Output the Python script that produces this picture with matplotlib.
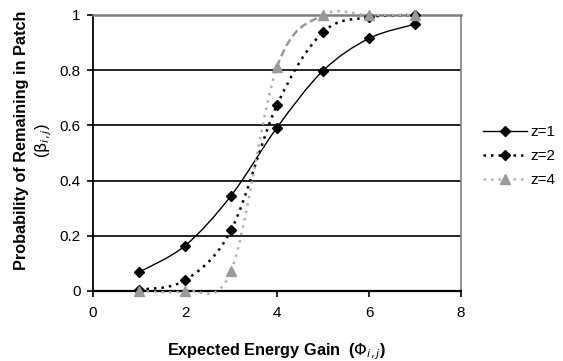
import matplotlib
matplotlib.use("Agg")
import matplotlib.pyplot as plt
from matplotlib.path import Path
from matplotlib.patches import PathPatch
from matplotlib.lines import Line2D
import numpy as np

plt.rcParams['font.family'] = ['Liberation Sans', 'DejaVu Sans']

phi = [1, 2, 3, 4, 5, 6, 7]
beta_z1 = [0.068, 0.164, 0.345, 0.592, 0.798, 0.915, 0.967]
beta_z2 = [0.005, 0.039, 0.220, 0.674, 0.938, 0.992, 1.0]
beta_z4 = [0.0, 0.0, 0.072, 0.812, 1.0, 1.0, 1.0]
labels = ["z=1", "z=2", "z=4"]
x_ticks = [0, 2, 4, 6, 8]
y_ticks = [0, 0.2, 0.4, 0.6, 0.8, 1.0]
y_ticklabels = ["0", "0.2", "0.4", "0.6", "0.8", "1"]

FS = 11
FS_LAB = 11.7


def bezier_segments(xs, ys):
    p = np.column_stack([xs, ys]).astype(float)
    n = len(p)
    segs = []
    for i in range(n - 1):
        p_prev = p[i - 1] if i > 0 else p[i]
        p_next2 = p[i + 2] if i + 2 < n else p[i + 1]
        c1 = p[i] + (p[i + 1] - p_prev) / 6.0
        c2 = p[i + 1] - (p_next2 - p[i]) / 6.0
        segs.append(Path([p[i], c1, c2, p[i + 1]],
                         [Path.MOVETO, Path.CURVE4, Path.CURVE4, Path.CURVE4]))
    return segs


fig = plt.figure(figsize=(5.63, 3.61), dpi=100)
ax = fig.add_axes([93 / 563, 70 / 361, 368 / 563, 276 / 361])

dot = (0, (1.0, 2.0))
series = [
    (beta_z1, '-', 'black', 1.0, 'D', 'black', 5),
    (beta_z2, dot, 'black', 1.8, 'D', 'black', 5),
    (beta_z4, dot, '#b0b0b0', 1.8, '^', '#9a9a9a', 6.5),
]

handles = []
for idx, ((ys, ls, lc, lw, mk, mc, ms), lab) in enumerate(zip(series, labels)):
    for k, seg in enumerate(bezier_segments(phi, ys)):
        seg_ls, seg_c = ls, lc
        if idx == 2 and k == 3:
            seg_ls, seg_c = (0, (3.0, 1.6)), '#9a9a9a'
        ax.add_patch(PathPatch(seg, facecolor='none', edgecolor=seg_c, linestyle=seg_ls,
                               linewidth=lw, zorder=3 + idx, clip_on=False,
                               capstyle='butt'))
    ax.plot(phi, ys, ls='none', marker=mk, color=mc, ms=ms, zorder=3.5 + idx,
            clip_on=False)
    handles.append(Line2D([], [], color=lc, ls=ls, lw=lw, marker=mk,
                          markerfacecolor=mc, markeredgecolor=mc, ms=ms))

ax.set_xlim(0, 8)
ax.set_ylim(0, 1)
ax.set_xticks(x_ticks)
ax.set_yticks(y_ticks)
ax.set_yticklabels(y_ticklabels)
for y in y_ticks[1:-1]:
    ax.axhline(y, color='black', lw=1.2, zorder=1)

ax.spines['left'].set_color('black')
ax.spines['left'].set_linewidth(1.3)
ax.spines['bottom'].set_color('black')
ax.spines['bottom'].set_linewidth(1.6)
ax.spines['top'].set_color('#808080')
ax.spines['top'].set_linewidth(1.8)
ax.spines['right'].set_color('#808080')
ax.spines['right'].set_linewidth(1.2)
ax.tick_params(axis='both', direction='out', length=4, width=1.2, labelsize=FS,
               colors='black', pad=5)
ax.tick_params(axis='x', pad=7)

fig.text(277 / 563, 1 - 352 / 361, r"Expected Energy Gain  ($\mathrm{\Phi}_{i,j}$)",
         ha='center', va='center', fontsize=FS_LAB, fontweight='bold')
fig.text(22 / 563, 1 - 140 / 361, "Probability of Remaining in Patch", rotation=90,
         ha='center', va='center', fontsize=FS_LAB, fontweight='bold')
fig.text(44 / 563, 1 - 140 / 361, r"($\mathrm{\beta}_{i,j}$)", rotation=90,
         ha='center', va='center', fontsize=FS_LAB)

leg = fig.legend(handles=handles, labels=labels, loc='center left',
                 bbox_to_anchor=(483 / 563, 1 - 156 / 361), frameon=False,
                 fontsize=FS, handlelength=2.9, handletextpad=0.2, labelspacing=0.65,
                 borderpad=0, borderaxespad=0)

fig.savefig("out.png", dpi=100)
